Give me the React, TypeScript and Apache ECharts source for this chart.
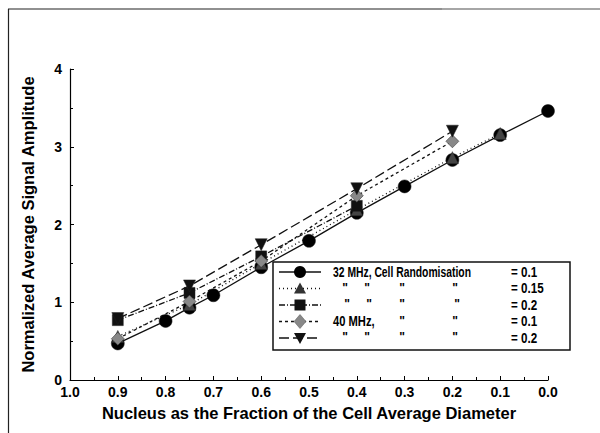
import React, { useEffect, useRef } from "react";
import * as echarts from "echarts";

// Data (x = nucleus fraction, y = normalized average signal amplitude)
const s1X = [0.9, 0.8, 0.75, 0.7, 0.6, 0.5, 0.4, 0.3, 0.2, 0.1, 0.0];
const s1Y = [0.47, 0.76, 0.93, 1.09, 1.45, 1.79, 2.15, 2.49, 2.83, 3.15, 3.46];
const s2X = [0.9, 0.75, 0.6, 0.4, 0.2, 0.1];
const s2Y = [0.56, 0.97, 1.5, 2.19, 2.86, 3.17];
const s3X = [0.9, 0.75, 0.6, 0.4];
const s3Y = [0.77, 1.12, 1.59, 2.24];
const s4X = [0.9, 0.75, 0.6, 0.4, 0.2];
const s4Y = [0.53, 1.01, 1.53, 2.37, 3.07];
const s5X = [0.9, 0.75, 0.6, 0.4, 0.2];
const s5Y = [0.79, 1.21, 1.74, 2.46, 3.2];

const xTitle = "Nucleus as the Fraction of the Cell Average Diameter";
const yTitle = "Normalized Average Signal Amplitude";

const FONT = "Liberation Sans, Arial, sans-serif";

const zip = (xs: number[], ys: number[]) => xs.map((x, i) => [x, ys[i]]);

export default function App() {
  const ref = useRef<HTMLDivElement>(null);
  useEffect(() => {
    if (!ref.current) return;
    const chart = echarts.init(ref.current, undefined, { renderer: "svg" });

    const mk = (
      name: string,
      xs: number[],
      ys: number[],
      symbol: string,
      color: string,
      dash: any,
      size: number,
      rotate = 0
    ) => ({
      name,
      type: "line",
      data: zip(xs, ys),
      symbol,
      symbolSize: size,
      symbolRotate: rotate,
      lineStyle: { color: "#111", width: 1.3, type: dash },
      itemStyle: { color, borderColor: "#222", borderWidth: 0.5 },
      z: 3,
    });

    const rowY = [272, 288.5, 305, 321.5, 338];
    const lx0 = 279, lx1 = 321, mx = 300;
    const dashes: any[] = [null, [1, 3], [6, 2, 1, 2], [3, 3], [10, 4]];
    const g: any[] = [];
    // page frame
    g.push({ type: "line", shape: { x1: 8, y1: 9, x2: 442, y2: 9 }, style: { stroke: "#222", lineWidth: 1.2 } });
    g.push({ type: "line", shape: { x1: 442, y1: 9, x2: 600, y2: 9 }, style: { stroke: "#888", lineWidth: 1.5 } });
    g.push({ type: "line", shape: { x1: 8.5, y1: 9, x2: 8.5, y2: 433 }, style: { stroke: "#222", lineWidth: 1.2 } });
    // legend box
    g.push({ type: "rect", shape: { x: 273, y: 262, width: 297, height: 88 }, style: { fill: "#fff", stroke: "#111", lineWidth: 1.5 }, z: 10 });
    rowY.forEach((y, i) => {
      g.push({
        type: "line",
        shape: { x1: lx0, y1: y, x2: lx1, y2: y },
        style: { stroke: "#111", lineWidth: 1.3, lineDash: dashes[i] || undefined },
        z: 11,
      });
    });
    g.push({ type: "circle", shape: { cx: mx, cy: rowY[0], r: 6 }, style: { fill: "#000" }, z: 12 });
    g.push({ type: "polygon", shape: { points: [[mx, rowY[1] - 6], [mx - 6, rowY[1] + 5], [mx + 6, rowY[1] + 5]] }, style: { fill: "#333" }, z: 12 });
    g.push({ type: "rect", shape: { x: mx - 5.5, y: rowY[2] - 5.5, width: 11, height: 11 }, style: { fill: "#111" }, z: 12 });
    g.push({ type: "polygon", shape: { points: [[mx, rowY[3] - 7], [mx + 6, rowY[3]], [mx, rowY[3] + 7], [mx - 6, rowY[3]]] }, style: { fill: "#888", stroke: "#555", lineWidth: 0.5 }, z: 12 });
    g.push({ type: "polygon", shape: { points: [[mx - 6, rowY[4] - 5], [mx + 6, rowY[4] - 5], [mx, rowY[4] + 6]] }, style: { fill: "#111" }, z: 12 });
    const txt = (x: number, y: number, s: string, sx = 0.8, align = "left", size = 14) =>
      g.push({
        type: "text",
        x,
        y,
        scaleX: sx,
        style: { text: s, font: `bold ${size}px ${FONT}`, fill: "#000", align, verticalAlign: "middle" },
        z: 12,
      });
    txt(333, rowY[0], "32 MHz, Cell Randomisation", 0.74);
    txt(333, rowY[3], "40 MHz,", 0.8);
    const qPos: (number[] | null)[] = [
      null,
      [345, 367, 402, 455],
      [347, 369, 402, 457],
      [402, 455],
      [345, 367, 402, 455],
    ];
    qPos.forEach((arr, i) => {
      if (!arr) return;
      arr.forEach((x) => txt(x, rowY[i] - 1, '"', 1, "center", 12));
    });
    const eqs = ["= 0.1", "= 0.15", "= 0.2", "= 0.1", "= 0.2"];
    eqs.forEach((s, i) => txt(511, rowY[i], s, 0.83));

    chart.setOption({
      animation: false,
      backgroundColor: "#fff",
      grid: { left: 70, right: 52, top: 69, bottom: 53 },
      xAxis: {
        type: "value",
        min: 0,
        max: 1,
        interval: 0.1,
        inverse: true,
        name: xTitle,
        nameLocation: "middle",
        nameGap: 24,
        nameTextStyle: { fontFamily: FONT, fontWeight: "bold", fontSize: 16.5, color: "#000" },
        axisLine: { show: true, lineStyle: { color: "#000", width: 1.2 } },
        axisTick: { show: true, inside: true, length: 4, lineStyle: { color: "#000" } },
        minorTick: { show: true, splitNumber: 2, length: 3, lineStyle: { color: "#000" } },
        splitLine: { show: false },
        axisLabel: {
          formatter: (v: number) => v.toFixed(1),
          fontFamily: FONT,
          fontWeight: "bold",
          fontSize: 14,
          color: "#000",
          margin: 5,
        },
      },
      yAxis: {
        type: "value",
        min: 0,
        max: 4,
        interval: 1,
        name: yTitle,
        nameLocation: "middle",
        nameGap: 34,
        nameTextStyle: { fontFamily: FONT, fontWeight: "bold", fontSize: 16.5, color: "#000" },
        axisLine: { show: true, onZero: false, lineStyle: { color: "#000", width: 1.2 } },
        axisTick: { show: true, inside: true, length: 4, lineStyle: { color: "#000" } },
        minorTick: { show: true, splitNumber: 2, length: 3, lineStyle: { color: "#000" } },
        splitLine: { show: false },
        axisLabel: { fontFamily: FONT, fontWeight: "bold", fontSize: 14, color: "#000", margin: 8 },
      },
      series: [
        mk("32 MHz 0.1", s1X, s1Y, "circle", "#000", "solid", 13),
        mk("32 MHz 0.15", s2X, s2Y, "triangle", "#444", [1, 3], 12),
        mk("32 MHz 0.2", s3X, s3Y, "rect", "#111", [6, 2, 1, 2], 11),
        mk("40 MHz 0.1", s4X, s4Y, "diamond", "#888", [3, 3], 13),
        mk("40 MHz 0.2", s5X, s5Y, "triangle", "#111", [10, 4], 12, 180),
      ],
      graphic: g,
    });
    return () => chart.dispose();
  }, []);
  return (
    <div
      ref={ref}
      style={{ position: "fixed", left: 0, top: 0, width: 600, height: 433, background: "#fff" }}
    />
  );
}
